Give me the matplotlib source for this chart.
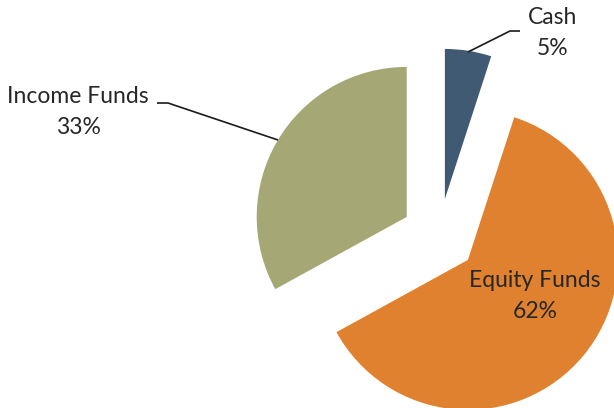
import matplotlib.pyplot as plt

labels = ["Cash", "Equity Funds", "Income Funds"]
shares = [5, 62, 33]
colors = ["#3F5A72", "#E0812F", "#A5A874"]
explode = [0.25, 0.25, 0.25]

plt.rcParams["font.family"] = ["Lato", "DejaVu Sans"]
TEXT = "#262626"

fig = plt.figure(figsize=(6.14, 4.08), dpi=100)
ax = fig.add_axes([0, 0, 1, 1])

# pie of radius 1 at origin; limits place it right of centre and partly cut off
ax.pie(shares, colors=colors, explode=explode, startangle=90, counterclock=False,
       radius=1.0, center=(0, 0), wedgeprops=dict(linewidth=0))
ax.set_xlim(-439 / 150, 175 / 150)
ax.set_ylim(-172 / 150, 236 / 150)
ax.set_aspect("equal")
ax.axis("off")


def px(x, y):
    return ((x - 439) / 150, (236 - y) / 150)


def label_text(i, x, y):
    ax.text(*px(x, y), f"{labels[i]}\n{shares[i]}%", ha="center", va="center",
            fontsize=16.5, color=TEXT, linespacing=1.55)


# Cash: leader line to the slice
cx, cy = zip(px(468, 52), px(510, 31), px(520, 31))
ax.plot(cx, cy, color="#1a1a1a", lw=1.2, solid_capstyle="butt")
label_text(0, 553, 33)

# Equity Funds: label sits inside its slice
label_text(1, 535, 296)

# Income Funds: leader line to the slice
ix, iy = zip(px(278, 140), px(168, 103), px(157, 103))
ax.plot(ix, iy, color="#1a1a1a", lw=1.2, solid_capstyle="butt")
label_text(2, 78, 112)

fig.savefig("out.png", dpi=100)
